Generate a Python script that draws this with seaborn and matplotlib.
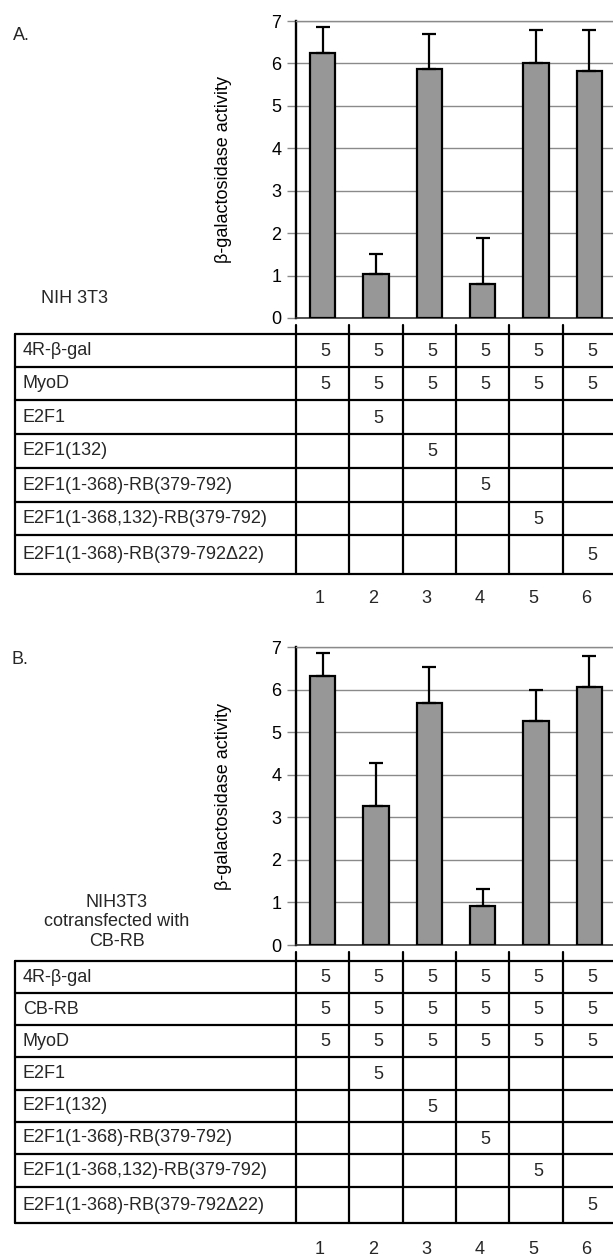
import numpy as np
import pandas as pd
import matplotlib
matplotlib.use("Agg")
import matplotlib.pyplot as plt
import matplotlib.transforms as mtransforms
from matplotlib.lines import Line2D
import seaborn as sns

# ---------------- data ----------------
lanes = ["1", "2", "3", "4", "5", "6"]
y_ticks = [0, 1, 2, 3, 4, 5, 6, 7]
y_label = "β-galactosidase activity"

a_means = [6.25, 1.04, 5.88, 0.81, 6.00, 5.83]
a_err = [0.62, 0.46, 0.82, 1.07, 0.78, 0.95]
b_means = [6.33, 3.26, 5.69, 0.91, 5.27, 6.05]
b_err = [0.53, 1.02, 0.84, 0.41, 0.71, 0.73]

a_rows = ["4R-β-gal", "MyoD", "E2F1", "E2F1(132)",
          "E2F1(1-368)-RB(379-792)", "E2F1(1-368,132)-RB(379-792)",
          "E2F1(1-368)-RB(379-792Δ22)"]
a_doses = [
    ["5", "5", "5", "5", "5", "5"],
    ["5", "5", "5", "5", "5", "5"],
    ["", "5", "", "", "", ""],
    ["", "", "5", "", "", ""],
    ["", "", "", "5", "", ""],
    ["", "", "", "", "5", ""],
    ["", "", "", "", "", "5"],
]
b_rows = ["4R-β-gal", "CB-RB", "MyoD", "E2F1", "E2F1(132)",
          "E2F1(1-368)-RB(379-792)", "E2F1(1-368,132)-RB(379-792)",
          "E2F1(1-368)-RB(379-792Δ22)"]
b_doses = [
    ["5", "5", "5", "5", "5", "5"],
    ["5", "5", "5", "5", "5", "5"],
    ["5", "5", "5", "5", "5", "5"],
    ["", "5", "", "", "", ""],
    ["", "", "5", "", "", ""],
    ["", "", "", "5", "", ""],
    ["", "", "", "", "5", ""],
    ["", "", "", "", "", "5"],
]
a_panel = "A."
b_panel = "B."
a_cell = "NIH 3T3"
b_cell = "NIH3T3\ncotransfected with\nCB-RB"

# ---------------- style ----------------
sns.set_theme(style="white")
plt.rcParams["font.family"] = ["Liberation Sans", "DejaVu Sans"]
FS = 13
BAR = "#979797"
GRID = "#8a8a8a"

W, H = 613, 1259
fig = plt.figure(figsize=(W / 100, H / 100), dpi=100)


def fx(px):
    return px / W


def fy(py):
    return 1 - py / H


def panel(means, err, rows, doses, top_px, zero_px, row_edges, num_y,
          panel_label, panel_xy, cell_label, cell_xy, cell_ha):
    ax = fig.add_axes([fx(296), fy(zero_px), fx(616) - fx(296), (zero_px - top_px) / H])
    df = pd.DataFrame({"lane": lanes, "value": means})
    sns.barplot(data=df, x="lane", y="value", ax=ax, color=BAR, saturation=1,
                edgecolor="black", linewidth=1.6, width=0.47, errorbar=None, zorder=3)
    x = np.arange(len(lanes))
    ax.errorbar(x, means, yerr=[np.zeros(len(err)), err], fmt="none",
                ecolor="black", elinewidth=1.6, capsize=5, capthick=1.6, zorder=4)
    ax.set_xlim(-0.5, 5.5)
    ax.set_ylim(0, 7)
    ax.set_yticks(y_ticks)
    ax.set_xticks([])
    ax.set_xlabel("")
    ax.set_ylabel(y_label, fontsize=FS, color="black")
    ax.yaxis.set_label_coords(-0.2, 0.5)
    ax.yaxis.grid(True, color=GRID, lw=1.0)
    ax.set_axisbelow(True)
    ax.tick_params(axis="y", direction="out", length=6.5, width=1.0, color=GRID,
                   labelsize=FS, pad=4, left=True, labelcolor="black")
    ax.spines["left"].set_color("black")
    ax.spines["left"].set_linewidth(1.7)
    ax.spines["top"].set_color(GRID)
    ax.spines["top"].set_linewidth(1.0)
    ax.spines["right"].set_visible(False)
    ax.spines["bottom"].set_color("#333333")
    ax.spines["bottom"].set_linewidth(1.2)

    blend = mtransforms.blended_transform_factory(ax.transData, fig.transFigure)
    top_t, bot_t = row_edges[0], row_edges[-1]
    for r in row_edges:
        fig.add_artist(Line2D([fx(15), 1.0], [fy(r), fy(r)], color="black", lw=1.6,
                              transform=fig.transFigure))
    fig.add_artist(Line2D([fx(15), fx(15)], [fy(top_t), fy(bot_t)], color="black",
                          lw=1.6, transform=fig.transFigure))
    for b in np.arange(-0.5, len(lanes), 1.0):
        fig.add_artist(Line2D([b, b], [fy(zero_px + 7), fy(bot_t)], color="black",
                              lw=1.6, transform=blend))
    for i, lab in enumerate(rows):
        yc = (row_edges[i] + row_edges[i + 1]) / 2
        fig.text(fx(23), fy(yc), lab, ha="left", va="center", fontsize=FS)
        for j, d in enumerate(doses[i]):
            if d:
                fig.text(j + 0.05, fy(yc + 1), d, ha="center", va="center",
                         fontsize=FS, transform=blend)
    for j, ln in enumerate(lanes):
        fig.text(j - 0.05, fy(num_y), ln, ha="center", va="center", fontsize=FS,
                 transform=blend)
    fig.text(fx(panel_xy[0]), fy(panel_xy[1]), panel_label, ha="left", va="center",
             fontsize=FS)
    fig.text(fx(cell_xy[0]), fy(cell_xy[1]), cell_label, ha=cell_ha, va="center",
             fontsize=FS, multialignment="center", linespacing=1.2)
    return ax


panel(a_means, a_err, a_rows, a_doses, 21, 318,
      [334, 367, 400, 434, 468, 502, 535, 574], 599,
      a_panel, (13, 36), a_cell, (41, 298), "left")
panel(b_means, b_err, b_rows, b_doses, 647, 945,
      [961, 993, 1025, 1057, 1090, 1122, 1154, 1187, 1223], 1250,
      b_panel, (12, 660), b_cell, (117, 922), "center")

fig.savefig("out.png", dpi=100)
